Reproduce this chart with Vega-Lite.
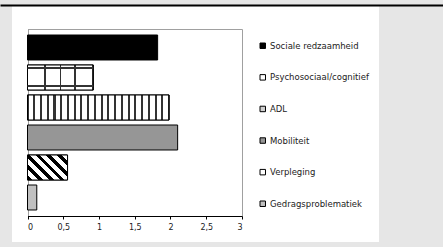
{
  "$schema": "https://vega.github.io/schema/vega-lite/v6.json",
  "autosize": {"type": "none"},
  "width": 367,
  "height": 236,
  "padding": {"left": 12, "top": 6, "right": 64, "bottom": 5},
  "background": "#e6e6e6",
  "config": {
    "font": "DejaVu Sans",
    "view": {"fill": "white", "stroke": null},
    "legend": {
      "orient": "none",
      "legendX": 246.5,
      "legendY": 35.5,
      "padding": 0,
      "rowPadding": 21.6,
      "labelFont": "DejaVu Sans",
      "labelFontSize": 8.5,
      "labelColor": "#222222",
      "labelOffset": 3,
      "symbolType": "square",
      "symbolSize": 30,
      "symbolStrokeColor": "black",
      "symbolStrokeWidth": 1,
      "title": null
    }
  },
  "data": {
    "values": [
      {"cat": "Sociale redzaamheid", "v": 1.82},
      {"cat": "Psychosociaal/cognitief", "v": 0.92},
      {"cat": "ADL", "v": 1.98},
      {"cat": "Mobiliteit", "v": 2.10},
      {"cat": "Verpleging", "v": 0.56},
      {"cat": "Gedragsproblematiek", "v": 0.13}
    ]
  },
  "encoding": {
    "y": {
      "field": "cat",
      "type": "nominal",
      "axis": null,
      "scale": {
        "domain": ["Sociale redzaamheid", "Psychosociaal/cognitief", "ADL", "Mobiliteit", "Verpleging", "Gedragsproblematiek"],
        "range": [23, 210],
        "paddingInner": 0.1667,
        "paddingOuter": 0.2
      }
    }
  },
  "resolve": {"scale": {"x": "independent"}, "axis": {"x": "independent"}},
  "layer": [
    {
      "mark": {"type": "bar", "stroke": "black", "strokeWidth": 1},
      "encoding": {
        "x": {
          "field": "v",
          "type": "quantitative",
          "scale": {"domain": [0, 3], "range": [15.5, 230]},
          "axis": {
            "orient": "bottom",
            "values": [0, 0.5, 1, 1.5, 2, 2.5, 3],
            "format": ".1~f",
            "labelExpr": "replace(datum.label, '.', ',')",
            "domainColor": "black",
            "tickColor": "black",
            "tickSize": 3,
            "labelFont": "DejaVu Sans",
            "labelFontSize": 8,
            "labelColor": "#222222",
            "labelPadding": 4,
            "grid": false,
            "offset": -26,
            "title": null
          }
        },
        "color": {
          "field": "cat",
          "type": "nominal",
          "scale": {
            "domain": ["Sociale redzaamheid", "Psychosociaal/cognitief", "ADL", "Mobiliteit", "Verpleging", "Gedragsproblematiek"],
            "range": ["#000000", "#ffffff", "#d0d0d0", "#969696", "#ffffff", "#c0c0c0"]
          },
          "legend": {}
        }
      }
    },
    {
      "transform": [{"filter": "datum.cat === 'ADL'"}],
      "mark": {
        "type": "bar",
        "stroke": "black",
        "strokeWidth": 1,
        "fill": {
          "gradient": "linear", "x1": 0, "y1": 0, "x2": 1, "y2": 0,
          "stops": [
            {"offset": 0, "color": "#333333"}, {"offset": 0.0075, "color": "#333333"}, {"offset": 0.0075, "color": "#ffffff"},
            {"offset": 0.0401, "color": "#ffffff"}, {"offset": 0.0401, "color": "#333333"}, {"offset": 0.0551, "color": "#333333"}, {"offset": 0.0551, "color": "#ffffff"},
            {"offset": 0.0877, "color": "#ffffff"}, {"offset": 0.0877, "color": "#333333"}, {"offset": 0.1027, "color": "#333333"}, {"offset": 0.1027, "color": "#ffffff"},
            {"offset": 0.1354, "color": "#ffffff"}, {"offset": 0.1354, "color": "#333333"}, {"offset": 0.1504, "color": "#333333"}, {"offset": 0.1504, "color": "#ffffff"},
            {"offset": 0.1830, "color": "#ffffff"}, {"offset": 0.1830, "color": "#333333"}, {"offset": 0.1980, "color": "#333333"}, {"offset": 0.1980, "color": "#ffffff"},
            {"offset": 0.2306, "color": "#ffffff"}, {"offset": 0.2306, "color": "#333333"}, {"offset": 0.2456, "color": "#333333"}, {"offset": 0.2456, "color": "#ffffff"},
            {"offset": 0.2782, "color": "#ffffff"}, {"offset": 0.2782, "color": "#333333"}, {"offset": 0.2932, "color": "#333333"}, {"offset": 0.2932, "color": "#ffffff"},
            {"offset": 0.3258, "color": "#ffffff"}, {"offset": 0.3258, "color": "#333333"}, {"offset": 0.3408, "color": "#333333"}, {"offset": 0.3408, "color": "#ffffff"},
            {"offset": 0.3735, "color": "#ffffff"}, {"offset": 0.3735, "color": "#333333"}, {"offset": 0.3885, "color": "#333333"}, {"offset": 0.3885, "color": "#ffffff"},
            {"offset": 0.4211, "color": "#ffffff"}, {"offset": 0.4211, "color": "#333333"}, {"offset": 0.4361, "color": "#333333"}, {"offset": 0.4361, "color": "#ffffff"},
            {"offset": 0.4687, "color": "#ffffff"}, {"offset": 0.4687, "color": "#333333"}, {"offset": 0.4837, "color": "#333333"}, {"offset": 0.4837, "color": "#ffffff"},
            {"offset": 0.5163, "color": "#ffffff"}, {"offset": 0.5163, "color": "#333333"}, {"offset": 0.5313, "color": "#333333"}, {"offset": 0.5313, "color": "#ffffff"},
            {"offset": 0.5639, "color": "#ffffff"}, {"offset": 0.5639, "color": "#333333"}, {"offset": 0.5789, "color": "#333333"}, {"offset": 0.5789, "color": "#ffffff"},
            {"offset": 0.6115, "color": "#ffffff"}, {"offset": 0.6115, "color": "#333333"}, {"offset": 0.6265, "color": "#333333"}, {"offset": 0.6265, "color": "#ffffff"},
            {"offset": 0.6592, "color": "#ffffff"}, {"offset": 0.6592, "color": "#333333"}, {"offset": 0.6742, "color": "#333333"}, {"offset": 0.6742, "color": "#ffffff"},
            {"offset": 0.7068, "color": "#ffffff"}, {"offset": 0.7068, "color": "#333333"}, {"offset": 0.7218, "color": "#333333"}, {"offset": 0.7218, "color": "#ffffff"},
            {"offset": 0.7544, "color": "#ffffff"}, {"offset": 0.7544, "color": "#333333"}, {"offset": 0.7694, "color": "#333333"}, {"offset": 0.7694, "color": "#ffffff"},
            {"offset": 0.8020, "color": "#ffffff"}, {"offset": 0.8020, "color": "#333333"}, {"offset": 0.8170, "color": "#333333"}, {"offset": 0.8170, "color": "#ffffff"},
            {"offset": 0.8496, "color": "#ffffff"}, {"offset": 0.8496, "color": "#333333"}, {"offset": 0.8646, "color": "#333333"}, {"offset": 0.8646, "color": "#ffffff"},
            {"offset": 0.8973, "color": "#ffffff"}, {"offset": 0.8973, "color": "#333333"}, {"offset": 0.9123, "color": "#333333"}, {"offset": 0.9123, "color": "#ffffff"},
            {"offset": 0.9449, "color": "#ffffff"}, {"offset": 0.9449, "color": "#333333"}, {"offset": 0.9599, "color": "#333333"}, {"offset": 0.9599, "color": "#ffffff"},
            {"offset": 0.9925, "color": "#ffffff"}, {"offset": 0.9925, "color": "#333333"}, {"offset": 1, "color": "#333333"}
          ]
        }
      },
      "encoding": {
        "x": {
          "field": "v",
          "type": "quantitative",
          "scale": {"domain": [0, 3], "range": [15.5, 230]},
          "axis": {
            "orient": "top",
            "values": [0, 3],
            "domain": true,
            "domainColor": "#a0a0a0",
            "domainWidth": 1,
            "ticks": false,
            "labels": false,
            "grid": true,
            "gridColor": "#a0a0a0",
            "gridWidth": 1,
            "offset": -23,
            "title": null
          }
        }
      }
    },
    {
      "transform": [{"filter": "datum.cat === 'Psychosociaal/cognitief'"}],
      "mark": {
        "type": "bar",
        "stroke": "black",
        "strokeWidth": 1,
        "fill": {
          "gradient": "linear", "x1": 0, "y1": 0, "x2": 1, "y2": 0,
          "stops": [
            {"offset": 0, "color": "#333333"}, {"offset": 0.012, "color": "#333333"}, {"offset": 0.012, "color": "#ffffff"},
            {"offset": 0.253, "color": "#ffffff"}, {"offset": 0.253, "color": "#333333"}, {"offset": 0.277, "color": "#333333"}, {"offset": 0.277, "color": "#ffffff"},
            {"offset": 0.491, "color": "#ffffff"}, {"offset": 0.491, "color": "#333333"}, {"offset": 0.515, "color": "#333333"}, {"offset": 0.515, "color": "#ffffff"},
            {"offset": 0.708, "color": "#ffffff"}, {"offset": 0.708, "color": "#333333"}, {"offset": 0.732, "color": "#333333"}, {"offset": 0.732, "color": "#ffffff"},
            {"offset": 0.988, "color": "#ffffff"}, {"offset": 0.988, "color": "#333333"}, {"offset": 1, "color": "#333333"}
          ]
        }
      },
      "encoding": {
        "x": {"field": "v", "type": "quantitative", "scale": {"domain": [0, 3], "range": [15.5, 230]}, "axis": null}
      }
    },
    {
      "transform": [{"filter": "datum.cat === 'Psychosociaal/cognitief'"}],
      "mark": {
        "type": "bar",
        "strokeWidth": 0,
        "fill": {
          "gradient": "linear", "x1": 0, "y1": 0, "x2": 0, "y2": 1,
          "stops": [
            {"offset": 0, "color": "rgba(0,0,0,0)"}, {"offset": 0.09, "color": "rgba(0,0,0,0)"}, {"offset": 0.09, "color": "#333333"}, {"offset": 0.15, "color": "#333333"}, {"offset": 0.15, "color": "rgba(0,0,0,0)"},
            {"offset": 0.81, "color": "rgba(0,0,0,0)"}, {"offset": 0.81, "color": "#333333"}, {"offset": 0.87, "color": "#333333"}, {"offset": 0.87, "color": "rgba(0,0,0,0)"}, {"offset": 1, "color": "rgba(0,0,0,0)"}
          ]
        }
      },
      "encoding": {
        "x": {"field": "v", "type": "quantitative", "scale": {"domain": [0, 3], "range": [15.5, 230]}, "axis": null}
      }
    },
    {
      "transform": [{"filter": "datum.cat === 'Verpleging'"}],
      "mark": {
        "type": "bar",
        "stroke": "black",
        "strokeWidth": 1,
        "fill": {
          "gradient": "linear", "x1": 0, "y1": 1, "x2": 1.17, "y2": 0.27,
          "stops": [
            {"offset": 0, "color": "#000000"}, {"offset": 0.075, "color": "#000000"}, {"offset": 0.075, "color": "#ffffff"}, {"offset": 0.1667, "color": "#ffffff"}, {"offset": 0.1667, "color": "#000000"},
            {"offset": 0.2417, "color": "#000000"}, {"offset": 0.2417, "color": "#ffffff"}, {"offset": 0.3333, "color": "#ffffff"}, {"offset": 0.3333, "color": "#000000"},
            {"offset": 0.4083, "color": "#000000"}, {"offset": 0.4083, "color": "#ffffff"}, {"offset": 0.5, "color": "#ffffff"}, {"offset": 0.5, "color": "#000000"},
            {"offset": 0.575, "color": "#000000"}, {"offset": 0.575, "color": "#ffffff"}, {"offset": 0.6667, "color": "#ffffff"}, {"offset": 0.6667, "color": "#000000"},
            {"offset": 0.7417, "color": "#000000"}, {"offset": 0.7417, "color": "#ffffff"}, {"offset": 0.8333, "color": "#ffffff"}, {"offset": 0.8333, "color": "#000000"},
            {"offset": 0.9083, "color": "#000000"}, {"offset": 0.9083, "color": "#ffffff"}, {"offset": 1, "color": "#ffffff"}
          ]
        }
      },
      "encoding": {
        "x": {"field": "v", "type": "quantitative", "scale": {"domain": [0, 3], "range": [15.5, 230]}, "axis": null}
      }
    },
    {
      "mark": {"type": "bar", "opacity": 0},
      "encoding": {
        "x": {
          "field": "v",
          "type": "quantitative",
          "scale": {"domain": [0, 3], "range": [-12, 431]},
          "axis": {
            "orient": "top",
            "domain": true,
            "domainColor": "black",
            "domainWidth": 2,
            "ticks": false,
            "labels": false,
            "grid": false,
            "offset": 1,
            "title": null
          }
        }
      }
    }
  ]
}
